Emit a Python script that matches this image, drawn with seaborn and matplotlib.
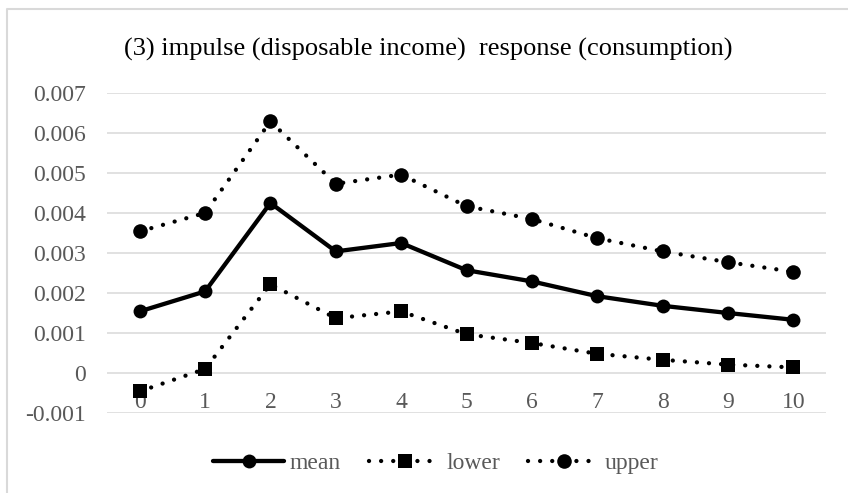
import matplotlib
matplotlib.use("Agg")
import matplotlib.pyplot as plt
from matplotlib.lines import Line2D
import numpy as np
import pandas as pd
import seaborn as sns

# Impulse response of consumption to a disposable-income shock
periods = list(range(11))
mean_vals = [0.00154, 0.00204, 0.00425, 0.00304, 0.00325, 0.00257, 0.00229,
             0.00192, 0.00168, 0.00150, 0.00133]
lower_vals = [-0.00046, 0.00010, 0.00222, 0.00137, 0.00154, 0.00097, 0.00075,
              0.00048, 0.00033, 0.00021, 0.00014]
upper_vals = [0.00354, 0.00400, 0.00629, 0.00473, 0.00496, 0.00417, 0.00385,
              0.00337, 0.00304, 0.00277, 0.00253]
y_ticks = [-0.001, 0, 0.001, 0.002, 0.003, 0.004, 0.005, 0.006, 0.007]
y_tick_labels = ["-0.001", "0", "0.001", "0.002", "0.003", "0.004", "0.005",
                 "0.006", "0.007"]
title = "(3) impulse (disposable income)  response (consumption)"

sns.set_theme(style="white")
plt.rcParams["font.family"] = ["Liberation Serif", "DejaVu Serif"]

df = pd.DataFrame({"period": periods, "mean": mean_vals,
                   "lower": lower_vals, "upper": upper_vals})

W, H = 848, 493
fig = plt.figure(figsize=(W / 100, H / 100), dpi=100)
ax = fig.add_axes([107 / W, 1 - 413 / H, (826 - 107) / W, 320 / H])

LW = 3.1
dot = (0, (0.01, 2.8))
styles = {
    "mean": dict(linestyle="-", marker="o", markersize=10),
    "lower": dict(linestyle=dot, marker="s", markersize=10),
    "upper": dict(linestyle=dot, marker="o", markersize=10.5),
}
for name in ["mean", "lower", "upper"]:
    st = styles[name]
    sns.lineplot(data=df, x="period", y=name, ax=ax, color="black",
                 linewidth=LW, linestyle=st["linestyle"], marker=st["marker"],
                 markersize=st["markersize"], markeredgewidth=0,
                 markerfacecolor="black", dash_capstyle="round",
                 solid_capstyle="round", label=name, zorder=3)

ax.set_xlim(-0.5, 10.5)
ax.set_ylim(-0.001, 0.007)
ax.set_yticks(y_ticks)
ax.set_yticklabels(y_tick_labels)
ax.set_xticks([])
ax.set_xlabel("")
ax.set_ylabel("")
for s in ax.spines.values():
    s.set_visible(False)
ax.grid(False)
for yv in y_ticks:
    ax.axhline(yv, color="#d9d9d9", linewidth=1.1, zorder=1)
ax.tick_params(axis="y", length=0, pad=15, labelsize=17, labelcolor="#595959")

# category labels hang just below the zero line
for p in periods:
    ax.annotate(str(p), xy=(p, 0), xytext=(0, -21.5), textcoords="offset points",
                ha="center", va="center", fontsize=17, color="#595959",
                zorder=2)

handles = [
    Line2D([], [], color="black", linewidth=LW, linestyle="-", marker="o",
           markersize=10, markeredgewidth=0, solid_capstyle="round"),
    Line2D([], [], color="black", linewidth=LW, linestyle=dot, marker="s",
           markersize=10, markeredgewidth=0, dash_capstyle="round"),
    Line2D([], [], color="black", linewidth=LW, linestyle=dot, marker="o",
           markersize=10.5, markeredgewidth=0, dash_capstyle="round"),
]
ax.legend(handles, ["mean", "lower", "upper"], loc="center",
          bbox_to_anchor=(436 / W, 1 - 463 / H),
          bbox_transform=fig.transFigure, ncol=3, frameon=False,
          fontsize=17, handlelength=3.0, columnspacing=1.2, handletextpad=0.25,
          labelcolor="#595959")

fig.text(428 / W, 1 - 49 / H, title, ha="center", va="center",
         fontsize=19, color="black")

# chart area border
fig.add_artist(Line2D([7 / W, 7 / W, 1.0], [0.0, 1 - 9 / H, 1 - 9 / H],
                      transform=fig.transFigure, color="#d9d9d9", linewidth=1.5))

fig.savefig("out.png", dpi=100)
